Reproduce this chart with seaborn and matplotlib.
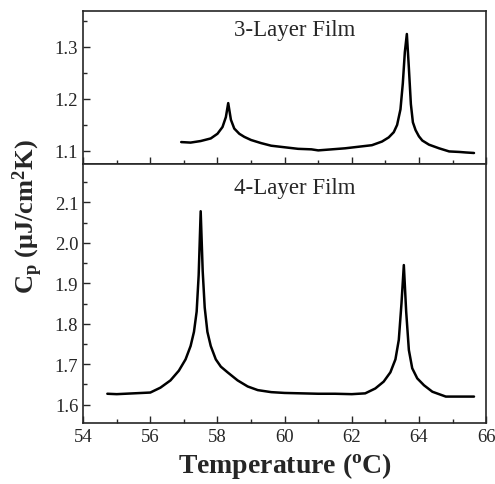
import matplotlib
matplotlib.use("Agg")
import matplotlib.pyplot as plt
import seaborn as sns
from matplotlib.ticker import MultipleLocator, FormatStrFormatter

# 3-layer film: temperature (C) and heat capacity
t3 = [56.92, 57.2, 57.5, 57.8, 58.0, 58.15, 58.25, 58.32, 58.4, 58.5, 58.65, 58.8, 59.0,
      59.3, 59.6, 60.0, 60.4, 60.8, 61.0, 61.4, 61.8, 62.2, 62.6, 62.9, 63.1, 63.25,
      63.35, 63.45, 63.52, 63.58, 63.64, 63.7, 63.76, 63.82, 63.9, 64.0, 64.1, 64.3,
      64.6, 64.9, 65.2, 65.4, 65.64]
cp3 = [1.117, 1.116, 1.119, 1.124, 1.133, 1.146, 1.165, 1.192, 1.160, 1.143, 1.133, 1.127, 1.121,
       1.115, 1.110, 1.107, 1.104, 1.103, 1.101, 1.103, 1.105, 1.108, 1.111, 1.118, 1.126, 1.136,
       1.150, 1.180, 1.230, 1.290, 1.325, 1.260, 1.190, 1.155, 1.140, 1.128, 1.120, 1.112,
       1.105, 1.099, 1.098, 1.097, 1.096]

# 4-layer film
t4 = [54.72, 55.0, 55.5, 56.0, 56.3, 56.6, 56.85, 57.05, 57.2, 57.3, 57.38, 57.44, 57.5,
      57.56, 57.62, 57.7, 57.8, 57.95, 58.1, 58.3, 58.6, 58.9, 59.2, 59.6, 60.0, 60.5,
      61.0, 61.5, 62.0, 62.4, 62.7, 62.95, 63.15, 63.3, 63.4, 63.48, 63.55, 63.62, 63.7,
      63.8, 63.95, 64.15, 64.4, 64.8, 65.2, 65.64]
cp4 = [1.627, 1.626, 1.628, 1.630, 1.642, 1.660, 1.684, 1.712, 1.745, 1.780, 1.830, 1.920, 2.078,
       1.930, 1.840, 1.780, 1.745, 1.712, 1.694, 1.680, 1.660, 1.645, 1.636, 1.631, 1.629, 1.628,
       1.627, 1.627, 1.626, 1.628, 1.640, 1.657, 1.680, 1.712, 1.760, 1.850, 1.945, 1.830, 1.735,
       1.690, 1.665, 1.648, 1.632, 1.620, 1.620, 1.620]

sns.set_style("ticks")
plt.rcParams["font.family"] = ["Liberation Serif", "DejaVu Serif"]
plt.rcParams["mathtext.fontset"] = "custom"
plt.rcParams["mathtext.rm"] = "Liberation Serif"
plt.rcParams["mathtext.bf"] = "Liberation Serif:bold"

fig = plt.figure(figsize=(4.95, 4.85), dpi=100)
ax1 = fig.add_axes([0.168, 0.660, 0.814, 0.315])
ax2 = fig.add_axes([0.168, 0.126, 0.814, 0.534], sharex=ax1)

sns.lineplot(x=t3, y=cp3, ax=ax1, color="black", lw=1.8, sort=False)
sns.lineplot(x=t4, y=cp4, ax=ax2, color="black", lw=1.8, sort=False)

ax1.set_ylim(1.075, 1.369)
ax2.set_ylim(1.555, 2.195)
ax2.set_xlim(54, 66)

for ax in (ax1, ax2):
    ax.xaxis.set_major_locator(MultipleLocator(2))
    ax.xaxis.set_minor_locator(MultipleLocator(1))
    ax.yaxis.set_major_locator(MultipleLocator(0.1))
    ax.yaxis.set_minor_locator(MultipleLocator(0.05))
    ax.tick_params(which="both", direction="in", top=False, right=False, labelsize=13.5)
    ax.tick_params(which="major", length=5, width=1)
    ax.tick_params(which="minor", length=3, width=1)
    for s in ax.spines.values():
        s.set_linewidth(1.2)
        s.set_visible(True)
    ax.yaxis.set_major_formatter(FormatStrFormatter("%.1f"))

ax1.tick_params(axis="x", labelbottom=False)
ax2.xaxis.set_major_formatter(FormatStrFormatter("%d"))

ax1.text(0.526, 0.88, "3-Layer Film", transform=ax1.transAxes, ha="center", va="center", fontsize=16.5)
ax2.text(0.526, 0.91, "4-Layer Film", transform=ax2.transAxes, ha="center", va="center", fontsize=16.5)

ax2.set_xlabel(r"Temperature ($\mathregular{^{o}}$C)", fontsize=20, fontweight="bold", labelpad=4)
fig.text(0.055, 0.553, r"C$\mathbf{_p}$ ($\mathbf{\mu}$J/cm$\mathbf{^2}$K)", rotation=90,
         ha="center", va="center", fontsize=19, fontweight="bold")

fig.savefig("out.png", dpi=100)
